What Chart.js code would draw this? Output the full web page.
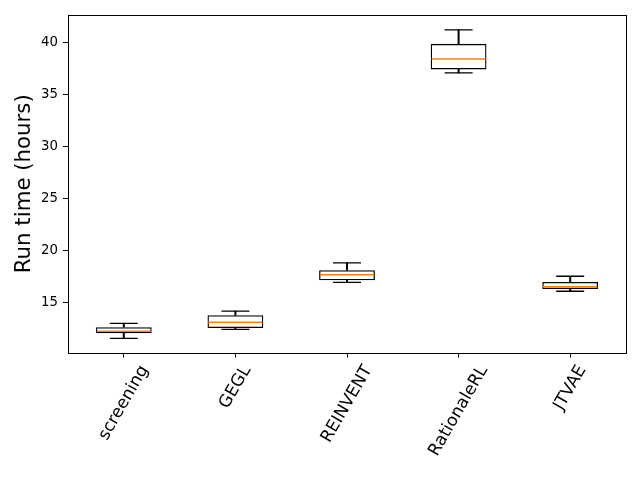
<!DOCTYPE html>
<html>
<head>
<meta charset="utf-8">
<script src="https://cdn.jsdelivr.net/npm/chart.js@4/dist/chart.umd.min.js"></script>
<style>
  html, body { margin: 0; padding: 0; background: #fff; }
  canvas { display: block; }
</style>
</head>
<body>
<canvas id="runtime" width="640" height="480"></canvas>
<script>
// box plot values (hours)
const categories = ['screening', 'GEGL', 'REINVENT', 'RationaleRL', 'JTVAE'];
const whiskerLow  = [11.56, 12.42, 16.94, 37.04, 16.08];
const q1          = [12.04, 12.55, 17.13, 37.38, 16.30];
const medians     = [12.23, 13.10, 17.67, 38.38, 16.52];
const q3          = [12.62, 13.77, 18.10, 39.83, 16.97];
const whiskerHigh = [13.00, 14.18, 18.80, 41.17, 17.52];
const yTicks = [15, 20, 25, 30, 35, 40];

const FONT = "'DejaVu Sans', sans-serif";

// pair two arrays into floating bar ranges
function ranges(lo, hi) { return lo.map((v, i) => [v, hi[i]]); }

// axes frame on all four sides, like matplotlib
const framePlugin = {
  id: 'frame',
  afterDraw(chart) {
    const { ctx, chartArea: a } = chart;
    ctx.save();
    ctx.strokeStyle = '#000';
    ctx.lineWidth = 1;
    ctx.strokeRect(Math.round(a.left) + 0.5, Math.round(a.top) + 0.5,
                   Math.round(a.right - a.left), Math.round(a.bottom - a.top));
    ctx.restore();
  }
};

// x labels rotated 60 degrees, centred under their tick
const xLabelPlugin = {
  id: 'xlabels',
  afterDraw(chart) {
    const { ctx } = chart;
    const scale = chart.scales.x;
    const size = 17;
    const ang = Math.PI / 3;
    ctx.save();
    ctx.font = size + 'px ' + FONT;
    ctx.fillStyle = '#000';
    ctx.textAlign = 'center';
    ctx.textBaseline = 'middle';
    categories.forEach((label, i) => {
      const x = scale.getPixelForTick(i);
      const w = ctx.measureText(label).width;
      const h = size * 1.17;
      const boxH = w * Math.sin(ang) + h * Math.cos(ang);
      const top = scale.top + 9.5;
      ctx.save();
      ctx.translate(x, top + boxH / 2);
      ctx.rotate(-ang);
      ctx.fillText(label, 0, 0);
      ctx.restore();
    });
    ctx.restore();
  }
};

const capStyle = {
  type: 'line',
  showLine: false,
  pointStyle: 'line',
  pointRadius: 14,
  pointHoverRadius: 14,
  pointBorderColor: '#000',
  pointBorderWidth: 1.3,
  order: 2
};

new Chart(document.getElementById('runtime'), {
  type: 'bar',
  data: {
    labels: categories,
    datasets: [
      { data: ranges(whiskerLow, q1), backgroundColor: '#000', borderWidth: 0,
        barThickness: 1.3, grouped: false, order: 3 },
      { data: ranges(q3, whiskerHigh), backgroundColor: '#000', borderWidth: 0,
        barThickness: 1.3, grouped: false, order: 3 },
      { data: ranges(q1, q3), backgroundColor: 'rgba(0,0,0,0)', borderColor: '#000',
        borderWidth: 1.3, borderSkipped: false, grouped: false,
        barPercentage: 0.5, categoryPercentage: 1, order: 1 },
      Object.assign({ data: whiskerLow }, capStyle),
      Object.assign({ data: whiskerHigh }, capStyle),
      { type: 'line', data: medians, showLine: false, pointStyle: 'line',
        pointRadius: 27, pointHoverRadius: 27, pointBorderColor: '#ff7f0e',
        pointBorderWidth: 1.5, order: 0 }
    ]
  },
  options: {
    responsive: false,
    animation: false,
    layout: { autoPadding: false, padding: { top: 15, right: 14, left: 0, bottom: 0 } },
    plugins: { legend: { display: false }, tooltip: { enabled: false } },
    scales: {
      x: {
        offset: true,
        grid: { display: true, offset: false, drawOnChartArea: false,
                tickLength: 5, color: '#000' },
        border: { display: false },
        ticks: { display: false },
        afterFit(scale) { scale.height = 127.5; }
      },
      y: {
        min: 10.2,
        max: 42.6,
        grid: { display: true, drawOnChartArea: false, tickLength: 5, color: '#000' },
        border: { display: false },
        ticks: { color: '#000', padding: 5, font: { family: FONT, size: 13.3 } },
        afterBuildTicks(scale) { scale.ticks = yTicks.map(v => ({ value: v })); },
        title: { display: true, text: 'Run time (hours)', color: '#000',
                 padding: { top: 12, bottom: 0 }, font: { family: FONT, size: 21.3 } },
        afterFit(scale) { scale.width = 68; }
      }
    }
  },
  plugins: [framePlugin, xLabelPlugin]
});
</script>
</body>
</html>
